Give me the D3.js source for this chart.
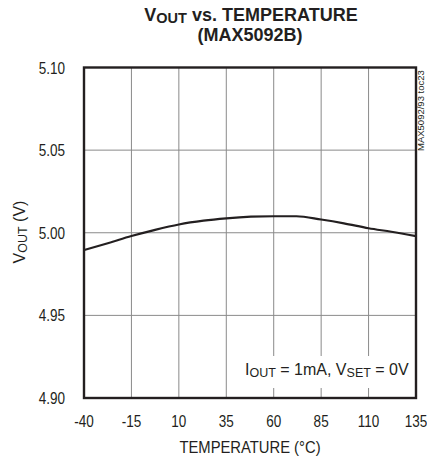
<!DOCTYPE html>
<html>
<head>
<meta charset="utf-8">
<script src="https://cdn.jsdelivr.net/npm/d3@7"></script>
<style>
  body { margin: 0; background: #fff; }
  text { font-family: "Liberation Sans", Arial, sans-serif; fill: #231f20; }
</style>
</head>
<body>
<svg id="chart" width="427" height="464"></svg>
<script>
// data
const temps  = [-40, -27, -15, -3, 10, 23, 35, 48, 60, 72, 85, 97, 110, 122, 135];
const vout   = [4.9895, 4.9938, 4.998, 5.0016, 5.005, 5.0073, 5.0087, 5.0097, 5.0100, 5.0100, 5.008, 5.0057, 5.0027, 5.0006, 4.998];
const xTicks = [-40, -15, 10, 35, 60, 85, 110, 135];
const yTicks = [4.90, 4.95, 5.00, 5.05, 5.10];

const svg = d3.select("#chart");
const m = {left: 84, top: 67.5, right: 416, bottom: 398};
const narrow = 0.82; // tick labels look like a narrow helvetica

const x = d3.scaleLinear().domain([-40, 135]).range([m.left, m.right]);
const y = d3.scaleLinear().domain([4.90, 5.10]).range([m.bottom, m.top]);

// grid
const grid = svg.append("g");
grid.selectAll("line.v").data(xTicks.slice(1, -1)).enter().append("line")
    .attr("x1", d => x(d)).attr("x2", d => x(d))
    .attr("y1", m.top).attr("y2", m.bottom)
    .attr("stroke", "#8a8a8a").attr("stroke-width", 1);
grid.selectAll("line.h").data(yTicks.slice(1, -1)).enter().append("line")
    .attr("x1", m.left).attr("x2", m.right)
    .attr("y1", d => y(d)).attr("y2", d => y(d))
    .attr("stroke", "#8a8a8a").attr("stroke-width", 1);

// annotation (white box hides the grid behind it)
svg.append("rect").attr("x", 242).attr("y", 356).attr("width", 172).attr("height", 32).attr("fill", "#fff");
const ann = svg.append("text").attr("x", 245).attr("y", 375).attr("font-size", 16);
ann.append("tspan").text("I");
ann.append("tspan").attr("font-size", 12.5).attr("dy", 2).text("OUT");
ann.append("tspan").attr("dy", -2).text(" = 1mA, V");
ann.append("tspan").attr("font-size", 12.5).attr("dy", 2).text("SET");
ann.append("tspan").attr("dy", -2).text(" = 0V");

// curve
const line = d3.line().x((d, i) => x(temps[i])).y(d => y(d)).curve(d3.curveMonotoneX);
svg.append("path").datum(vout).attr("d", line)
    .attr("fill", "none").attr("stroke", "#231f20").attr("stroke-width", 2.2);

// frame
svg.append("rect").attr("x", m.left).attr("y", m.top)
    .attr("width", m.right - m.left).attr("height", m.bottom - m.top)
    .attr("fill", "none").attr("stroke", "#231f20").attr("stroke-width", 2.4);

// tick labels
svg.selectAll("text.yt").data(yTicks).enter().append("text")
    .attr("transform", d => `translate(65,${y(d) + 6}) scale(${narrow},1)`)
    .attr("text-anchor", "end").attr("font-size", 16.5)
    .text(d => d3.format(".2f")(d));
svg.selectAll("text.xt").data(xTicks).enter().append("text")
    .attr("transform", d => `translate(${x(d)},427) scale(${narrow},1)`)
    .attr("text-anchor", "middle").attr("font-size", 16.5)
    .text(d => d);

// axis titles
svg.append("text").attr("transform", "translate(250,453) scale(0.87,1)")
    .attr("text-anchor", "middle").attr("font-size", 17).text("TEMPERATURE (°C)");
const yt = svg.append("text").attr("transform", "translate(25,232) rotate(-90)")
    .attr("text-anchor", "middle").attr("font-size", 16);
yt.append("tspan").text("V");
yt.append("tspan").attr("font-size", 12.5).attr("dy", 2).text("OUT");
yt.append("tspan").attr("dy", -2).text(" (V)");

// title
const t1 = svg.append("text").attr("x", 251).attr("y", 21).attr("text-anchor", "middle")
    .attr("font-size", 18).attr("font-weight", "bold");
t1.append("tspan").text("V");
t1.append("tspan").attr("font-size", 14.5).attr("dy", 1.5).text("OUT");
t1.append("tspan").attr("dy", -1.5).text(" vs. TEMPERATURE");
svg.append("text").attr("x", 250).attr("y", 41).attr("text-anchor", "middle")
    .attr("font-size", 18).attr("font-weight", "bold").text("(MAX5092B)");

// side code
svg.append("text").attr("transform", "translate(424,151) rotate(-90)")
    .attr("font-size", 9.5).text("MAX5092/93 toc23");
</script>
</body>
</html>
